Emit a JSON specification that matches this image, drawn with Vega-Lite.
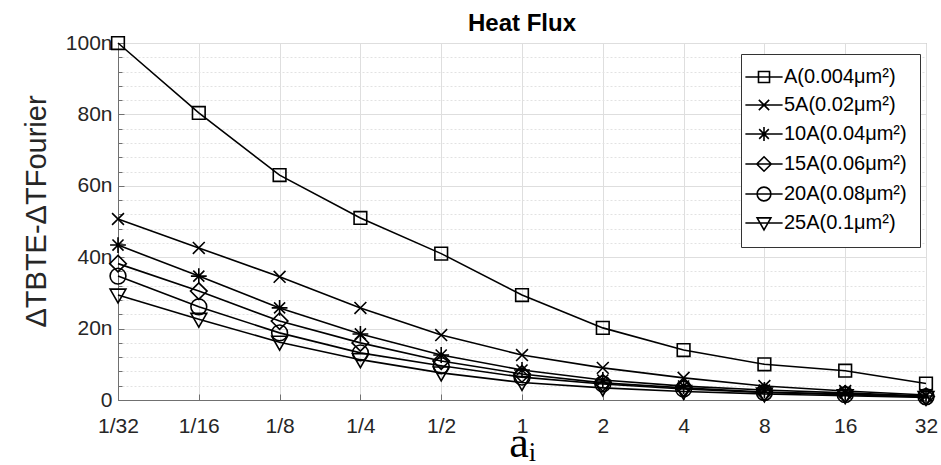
{
  "$schema": "https://vega.github.io/schema/vega-lite/v6.json",
  "width": 808,
  "height": 357,
  "autosize": {"type": "none"},
  "padding": {"left": 118, "top": 43, "right": 15, "bottom": 65},
  "background": "white",
  "title": {"text": "Heat Flux", "font": "Liberation Sans", "fontSize": 24, "fontWeight": "bold", "color": "black", "offset": -4, "anchor": "middle"},
  "config": {
    "view": {"stroke": "#9a9a9a", "strokeWidth": 1},
    "axis": {"labelFont": "Liberation Sans", "labelFontSize": 21, "labelColor": "#262626", "domainColor": "#707070", "tickColor": "#707070"}
  },
  "data": {"values": [
    {"a": "1/32", "series": "A(0.004μm²)", "value": 100},
    {"a": "1/16", "series": "A(0.004μm²)", "value": 80.4},
    {"a": "1/8", "series": "A(0.004μm²)", "value": 63},
    {"a": "1/4", "series": "A(0.004μm²)", "value": 51},
    {"a": "1/2", "series": "A(0.004μm²)", "value": 41},
    {"a": "1", "series": "A(0.004μm²)", "value": 29.4},
    {"a": "2", "series": "A(0.004μm²)", "value": 20.2},
    {"a": "4", "series": "A(0.004μm²)", "value": 14},
    {"a": "8", "series": "A(0.004μm²)", "value": 10},
    {"a": "16", "series": "A(0.004μm²)", "value": 8.2},
    {"a": "32", "series": "A(0.004μm²)", "value": 4.6},
    {"a": "1/32", "series": "5A(0.02μm²)", "value": 50.7},
    {"a": "1/16", "series": "5A(0.02μm²)", "value": 42.6},
    {"a": "1/8", "series": "5A(0.02μm²)", "value": 34.5},
    {"a": "1/4", "series": "5A(0.02μm²)", "value": 25.8},
    {"a": "1/2", "series": "5A(0.02μm²)", "value": 18.2},
    {"a": "1", "series": "5A(0.02μm²)", "value": 12.6},
    {"a": "2", "series": "5A(0.02μm²)", "value": 9},
    {"a": "4", "series": "5A(0.02μm²)", "value": 6.2},
    {"a": "8", "series": "5A(0.02μm²)", "value": 3.9},
    {"a": "16", "series": "5A(0.02μm²)", "value": 2.5},
    {"a": "32", "series": "5A(0.02μm²)", "value": 1.4},
    {"a": "1/32", "series": "10A(0.04μm²)", "value": 43.4},
    {"a": "1/16", "series": "10A(0.04μm²)", "value": 34.7},
    {"a": "1/8", "series": "10A(0.04μm²)", "value": 25.8},
    {"a": "1/4", "series": "10A(0.04μm²)", "value": 18.5},
    {"a": "1/2", "series": "10A(0.04μm²)", "value": 12.6},
    {"a": "1", "series": "10A(0.04μm²)", "value": 8.4},
    {"a": "2", "series": "10A(0.04μm²)", "value": 5.6},
    {"a": "4", "series": "10A(0.04μm²)", "value": 3.9},
    {"a": "8", "series": "10A(0.04μm²)", "value": 2.8},
    {"a": "16", "series": "10A(0.04μm²)", "value": 2.0},
    {"a": "32", "series": "10A(0.04μm²)", "value": 1.1},
    {"a": "1/32", "series": "15A(0.06μm²)", "value": 38.2},
    {"a": "1/16", "series": "15A(0.06μm²)", "value": 30.5},
    {"a": "1/8", "series": "15A(0.06μm²)", "value": 22.1},
    {"a": "1/4", "series": "15A(0.06μm²)", "value": 16},
    {"a": "1/2", "series": "15A(0.06μm²)", "value": 10.9},
    {"a": "1", "series": "15A(0.06μm²)", "value": 7.3},
    {"a": "2", "series": "15A(0.06μm²)", "value": 4.8},
    {"a": "4", "series": "15A(0.06μm²)", "value": 3.4},
    {"a": "8", "series": "15A(0.06μm²)", "value": 2.2},
    {"a": "16", "series": "15A(0.06μm²)", "value": 1.7},
    {"a": "32", "series": "15A(0.06μm²)", "value": 1.0},
    {"a": "1/32", "series": "20A(0.08μm²)", "value": 34.7},
    {"a": "1/16", "series": "20A(0.08μm²)", "value": 26.1},
    {"a": "1/8", "series": "20A(0.08μm²)", "value": 18.8},
    {"a": "1/4", "series": "20A(0.08μm²)", "value": 13.2},
    {"a": "1/2", "series": "20A(0.08μm²)", "value": 9.6},
    {"a": "1", "series": "20A(0.08μm²)", "value": 6.4},
    {"a": "2", "series": "20A(0.08μm²)", "value": 4.5},
    {"a": "4", "series": "20A(0.08μm²)", "value": 3.1},
    {"a": "8", "series": "20A(0.08μm²)", "value": 2.1},
    {"a": "16", "series": "20A(0.08μm²)", "value": 1.5},
    {"a": "32", "series": "20A(0.08μm²)", "value": 0.9},
    {"a": "1/32", "series": "25A(0.1μm²)", "value": 29.4},
    {"a": "1/16", "series": "25A(0.1μm²)", "value": 22.6},
    {"a": "1/8", "series": "25A(0.1μm²)", "value": 16.2},
    {"a": "1/4", "series": "25A(0.1μm²)", "value": 11.3},
    {"a": "1/2", "series": "25A(0.1μm²)", "value": 7.6},
    {"a": "1", "series": "25A(0.1μm²)", "value": 4.9},
    {"a": "2", "series": "25A(0.1μm²)", "value": 3.4},
    {"a": "4", "series": "25A(0.1μm²)", "value": 2.4},
    {"a": "8", "series": "25A(0.1μm²)", "value": 1.7},
    {"a": "16", "series": "25A(0.1μm²)", "value": 1.2},
    {"a": "32", "series": "25A(0.1μm²)", "value": 0.7}
  ]},
  "encoding": {
    "x": {
      "field": "a", "type": "ordinal",
      "sort": ["1/32", "1/16", "1/8", "1/4", "1/2", "1", "2", "4", "8", "16", "32"],
      "scale": {"type": "point", "padding": 0},
      "axis": {
        "title": "aᵢ", "titleFont": "Liberation Serif", "titleFontSize": 44, "titleFontWeight": "normal", "titleColor": "black", "titlePadding": -15,
        "labelAngle": 0, "labelPadding": 21, "tickSize": -6,
        "grid": true, "gridColor": "#dedede", "gridWidth": 1
      }
    },
    "y": {
      "field": "value", "type": "quantitative",
      "scale": {"domain": [0, 100], "nice": false},
      "axis": {
        "title": "ΔTBTE-ΔTFourier", "titleFont": "Liberation Sans", "titleFontSize": 29, "titleFontWeight": "normal", "titleColor": "#262626", "titlePadding": 14, "titleY": 168,
        "values": [0, 4, 8, 12, 16, 20, 24, 28, 32, 36, 40, 44, 48, 52, 56, 60, 64, 68, 72, 76, 80, 84, 88, 92, 96, 100],
        "labelExpr": "datum.value % 20 == 0 ? (datum.value == 0 ? '0' : datum.value + 'n') : ''",
        "labelPadding": 12,
        "tickSize": {"condition": {"test": "datum.value % 20 == 0", "value": -6}, "value": -4},
        "grid": true,
        "gridColor": {"condition": {"test": "datum.value % 20 == 0", "value": "#dedede"}, "value": "#e2e2e2"},
        "gridDash": {"condition": {"test": "datum.value % 20 == 0", "value": []}, "value": [2, 2]}
      }
    }
  },
  "layer": [
    {
      "mark": {"type": "line", "color": "black", "strokeWidth": 1.6},
      "encoding": {"detail": {"field": "series"}}
    },
    {
      "mark": {"type": "point", "filled": false, "color": "black", "strokeWidth": 1.6, "size": 250, "opacity": 1},
      "encoding": {
        "shape": {
          "field": "series", "type": "nominal",
          "scale": {
            "domain": ["A(0.004μm²)", "5A(0.02μm²)", "10A(0.04μm²)", "15A(0.06μm²)", "20A(0.08μm²)", "25A(0.1μm²)"],
            "range": [
              "M-0.8,-0.8H0.8V0.8H-0.8Z",
              "M-0.75,-0.75L0.75,0.75M-0.75,0.75L0.75,-0.75",
              "M-1,0H1M0,-1V1M-0.7,-0.7L0.7,0.7M-0.7,0.7L0.7,-0.7",
              "M0,-1.05L1.05,0L0,1.05L-1.05,0Z",
              "M1,0A1,1,0,1,1,-1,0A1,1,0,1,1,1,0Z",
              "M-1,-0.75L1,-0.75L0,1Z"
            ]
          },
          "legend": null
        }
      }
    },
    {
      "transform": [{"filter": "false"}],
      "mark": {"type": "point", "filled": false, "color": "black", "strokeWidth": 1.6, "size": 190, "opacity": 1},
      "encoding": {
        "shape": {
          "field": "series", "type": "nominal",
          "scale": {
            "domain": ["A(0.004μm²)", "5A(0.02μm²)", "10A(0.04μm²)", "15A(0.06μm²)", "20A(0.08μm²)", "25A(0.1μm²)"],
            "range": [
              "M-0.8,-0.8H0.8V0.8H-0.8ZM-2.7,0H2.7",
              "M-0.75,-0.75L0.75,0.75M-0.75,0.75L0.75,-0.75M-2.7,0H2.7",
              "M-1,0H1M0,-1V1M-0.7,-0.7L0.7,0.7M-0.7,0.7L0.7,-0.7M-2.7,0H2.7",
              "M0,-1.05L1.05,0L0,1.05L-1.05,0ZM-2.7,0H2.7",
              "M1,0A1,1,0,1,1,-1,0A1,1,0,1,1,1,0ZM-2.7,0H2.7",
              "M-1,-0.75L1,-0.75L0,1ZM-2.7,0H2.7"
            ]
          },
          "legend": {
            "title": null,
            "orient": "none", "legendX": 623, "legendY": 11,
            "strokeColor": "#333333", "fillColor": "white", "padding": 13,
            "labelFont": "Liberation Sans", "labelFontSize": 20, "labelColor": "black", "labelLimit": 300, "labelOffset": 10,
            "rowPadding": 8,
            "symbolSize": 190, "symbolStrokeColor": "black", "symbolFillColor": "transparent", "symbolStrokeWidth": 1.6
          }
        }
      }
    }
  ],
  "resolve": {"scale": {"shape": "independent"}}
}
